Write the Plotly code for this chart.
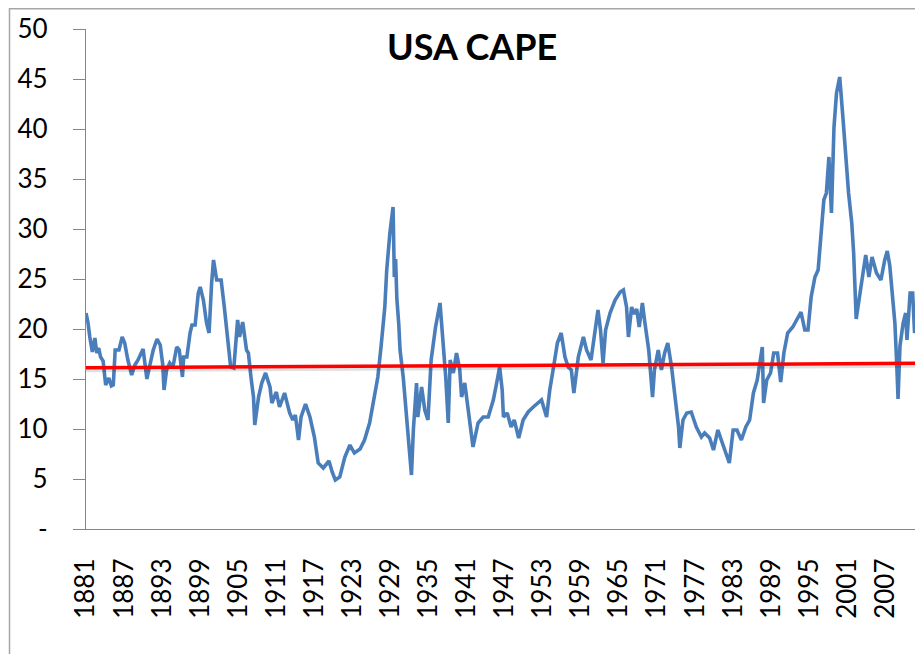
import plotly.graph_objects as go

# ---- data ----
years = [
    1881.0, 1881.3, 1881.6, 1882.0, 1882.4, 1882.7, 1883.0, 1883.3, 1883.7, 1884.1,
    1884.6, 1885.0, 1885.3, 1885.6, 1886.2, 1886.7, 1887.1, 1887.6, 1888.2, 1888.7,
    1889.2, 1889.6, 1890.0, 1890.3, 1890.6, 1891.0, 1891.6, 1892.2, 1892.7, 1893.1,
    1893.3, 1893.7, 1894.2, 1894.7, 1895.3, 1895.7, 1896.2, 1896.4, 1896.9, 1897.4,
    1897.7, 1898.2, 1898.7, 1899.0, 1899.5, 1900.0, 1900.4, 1900.8, 1901.1, 1901.6,
    1902.3, 1902.8, 1903.3, 1903.8, 1904.3, 1904.9, 1905.2, 1905.7, 1906.3, 1906.6,
    1907.0, 1907.4, 1907.6, 1908.2, 1908.7, 1909.3, 1910.0, 1910.3, 1911.0, 1911.5,
    1912.3, 1913.1, 1913.6, 1914.0, 1914.5, 1914.9, 1915.6, 1916.3, 1917.0, 1917.6,
    1918.4, 1919.3, 1919.8, 1920.3, 1921.0, 1921.8, 1922.6, 1923.3, 1924.2, 1924.9,
    1925.7, 1926.2, 1927.0, 1927.5, 1928.1, 1928.4, 1928.6, 1928.9, 1929.4, 1929.6,
    1929.8, 1930.0, 1930.3, 1930.5, 1931.0, 1931.5, 1931.8, 1932.3, 1932.6, 1933.1,
    1933.3, 1933.9, 1934.4, 1934.9, 1935.4, 1936.1, 1936.8, 1937.2, 1937.7, 1938.1,
    1938.4, 1938.9, 1939.4, 1939.9, 1940.2, 1940.7, 1941.2, 1942.0, 1942.8, 1943.6,
    1944.4, 1945.2, 1945.7, 1946.2, 1946.6, 1946.8, 1947.4, 1948.0, 1948.5, 1949.2,
    1949.9, 1950.7, 1951.5, 1952.3, 1952.8, 1953.6, 1954.1, 1954.7, 1955.3, 1955.9,
    1956.5, 1957.0, 1957.5, 1957.9, 1958.6, 1959.4, 1959.9, 1960.6, 1961.2, 1961.7,
    1962.1, 1962.5, 1962.9, 1963.6, 1964.4, 1965.2, 1965.7, 1966.2, 1966.5, 1967.0,
    1967.4, 1967.8, 1968.2, 1968.7, 1969.1, 1969.7, 1970.3, 1970.6, 1971.2, 1971.7,
    1972.2, 1972.7, 1973.3, 1973.9, 1974.4, 1974.6, 1975.1, 1975.7, 1976.4, 1977.2,
    1978.0, 1978.5, 1979.3, 1979.9, 1980.6, 1981.3, 1981.9, 1982.4, 1983.0, 1983.6,
    1984.3, 1985.0, 1985.6, 1986.2, 1986.8, 1987.2, 1987.6, 1987.8, 1988.3, 1988.9,
    1989.4, 1990.0, 1990.5, 1991.0, 1991.6, 1992.4, 1993.2, 1993.7, 1994.3, 1994.8,
    1995.3, 1995.9, 1996.4, 1996.8, 1997.3, 1997.7, 1998.1, 1998.5, 1998.9, 1999.3,
    1999.8, 2000.3, 2000.7, 2001.2, 2001.7, 2002.0, 2002.4, 2003.0, 2003.5, 2003.9,
    2004.4, 2004.9, 2005.6, 2006.3, 2006.9, 2007.3, 2007.7, 2008.1, 2008.5, 2008.8,
    2009.0, 2009.3, 2009.8, 2010.2, 2010.4, 2010.9, 2011.3, 2011.6, 2012.0, 2012.3,
]
cape = [
    21.6, 20.7, 19.2, 17.7, 19.1, 17.6, 18.1, 17.2, 16.8, 14.4,
    15.1, 14.3, 14.4, 17.9, 17.9, 19.2, 18.6, 16.9, 15.4, 16.4,
    16.9, 17.5, 18.0, 16.5, 15.0, 16.2, 17.9, 19.0, 18.4, 16.4,
    13.9, 15.9, 16.6, 16.2, 18.2, 17.9, 15.2, 17.2, 17.2, 19.6,
    20.4, 20.4, 23.6, 24.2, 22.9, 20.6, 19.6, 24.6, 26.9, 24.9,
    24.9, 22.2, 19.2, 16.2, 16.1, 20.9, 19.2, 20.7, 17.9, 17.6,
    15.2, 13.2, 10.4, 13.2, 14.6, 15.6, 14.2, 12.6, 13.7, 12.2,
    13.6, 11.6, 10.9, 11.4, 8.9, 11.2, 12.5, 11.2, 9.2, 6.6,
    6.1, 6.8, 5.7, 4.9, 5.2, 7.2, 8.4, 7.6, 8.0, 8.9,
    10.6, 12.2, 15.2, 18.2, 22.2, 25.9, 27.6, 29.6, 32.2, 25.2,
    27.0, 23.0, 20.5, 17.9, 15.2, 11.2, 9.2, 5.4, 9.9, 14.6,
    11.2, 14.2, 11.9, 10.9, 16.9, 20.2, 22.6, 19.6, 15.2, 10.6,
    16.9, 15.6, 17.6, 16.0, 13.2, 14.6, 11.9, 8.2, 10.6, 11.2,
    11.2, 12.9, 14.5, 16.2, 13.9, 11.2, 11.6, 10.2, 10.9, 9.1,
    10.9, 11.7, 12.2, 12.6, 12.9, 11.2, 13.9, 16.2, 18.6, 19.6,
    17.2, 16.2, 15.9, 13.6, 17.2, 19.2, 17.9, 16.9, 19.9, 21.9,
    19.9, 16.6, 19.9, 21.6, 22.9, 23.7, 23.9, 22.2, 19.2, 22.2,
    21.5, 22.0, 20.2, 22.6, 20.6, 17.9, 13.2, 15.9, 17.9, 15.9,
    17.6, 18.6, 16.2, 13.2, 10.2, 8.1, 10.9, 11.6, 11.7, 10.2,
    9.2, 9.6, 9.1, 7.9, 9.9, 8.6, 7.6, 6.6, 9.9, 9.9,
    8.9, 10.2, 10.9, 13.6, 14.9, 16.9, 18.2, 12.6, 14.9, 15.6,
    17.6, 17.6, 14.7, 17.6, 19.6, 20.2, 21.2, 21.7, 19.9, 19.9,
    23.2, 25.2, 25.9, 28.6, 32.9, 33.6, 37.2, 31.6, 40.2, 43.6,
    45.2, 41.2, 37.6, 33.6, 30.6, 27.6, 21.0, 23.6, 25.6, 27.4,
    25.2, 27.2, 25.6, 24.9, 26.9, 27.8, 26.3, 23.6, 20.6, 16.3,
    13.0, 18.3, 20.6, 21.6, 18.9, 23.6, 23.6, 19.6, 22.2, 21.6,
]

mean_years = [1881.0, 2012.3]
mean_values = [16.13, 16.57]

x_tick_years = [1881, 1887, 1893, 1899, 1905, 1911, 1917, 1923, 1929, 1935, 1941,
                1947, 1953, 1959, 1965, 1971, 1977, 1983, 1989, 1995, 2001, 2007]
y_tick_values = [0, 5, 10, 15, 20, 25, 30, 35, 40, 45, 50]
y_tick_text = ["-", "5", "10", "15", "20", "25", "30", "35", "40", "45", "50"]

FONT = "Lato, Carlito, Calibri, sans-serif"

fig = go.Figure()
fig.add_trace(go.Scatter(x=years, y=cape, mode="lines",
                         line=dict(color="#4A7EBB", width=3.6),
                         hoverinfo="x+y", showlegend=False))
# soft shadow beneath the average line
fig.add_trace(go.Scatter(x=mean_years, y=[v - 0.25 for v in mean_values], mode="lines",
                         line=dict(color="rgba(0,0,0,0.12)", width=4),
                         hoverinfo="skip", showlegend=False))
fig.add_trace(go.Scatter(x=mean_years, y=mean_values, mode="lines",
                         line=dict(color="#FF0000", width=3.5),
                         hoverinfo="skip", showlegend=False))

# page has an 8px body margin, so the figure is sized/placed to compensate
W, H = 915, 646
L, T, R, B = 78, 21, 4, 125
PW, PH = W - L - R, H - T - B

fig.update_layout(
    width=W, height=H,
    margin=dict(l=L, r=R, t=T, b=B, autoexpand=False),
    paper_bgcolor="white", plot_bgcolor="white",
    font=dict(family=FONT, size=26, color="#000000"),
    xaxis=dict(range=[1881, 2012.3], tickmode="array", tickvals=x_tick_years,
               ticktext=[str(y) for y in x_tick_years], tickangle=-90,
               showgrid=False, zeroline=False, showline=True, linecolor="#868686",
               linewidth=1.2, ticks="", ticklabelstandoff=18,
               tickfont=dict(family=FONT, size=26, color="#000000")),
    yaxis=dict(range=[0, 50], tickmode="array", tickvals=y_tick_values,
               ticktext=y_tick_text, showgrid=False, zeroline=False,
               showline=True, linecolor="#868686", linewidth=1.2,
               ticks="outside", ticklen=12, tickcolor="#868686", tickwidth=1.2,
               ticklabelstandoff=20,
               tickfont=dict(family=FONT, size=26, color="#000000")),
    annotations=[dict(text="<b>USA CAPE</b>", xref="paper", yref="paper",
                      x=(472 - 8 - L) / PW, y=(PH + T - (46 - 8)) / PH,
                      xanchor="center", yanchor="middle",
                      showarrow=False,
                      font=dict(family=FONT, size=36, color="#000000"))],
    shapes=[dict(type="rect", xref="paper", yref="paper",
                 x0=(1.5 - L) / PW, x1=(W + 20 - L) / PW,
                 y0=(T + PH - (H + 40)) / PH, y1=(T + PH - 0.8) / PH,
                 line=dict(color="#A6A6A6", width=1.5), fillcolor="rgba(0,0,0,0)",
                 layer="below")],
)

fig.write_html("out.html")
